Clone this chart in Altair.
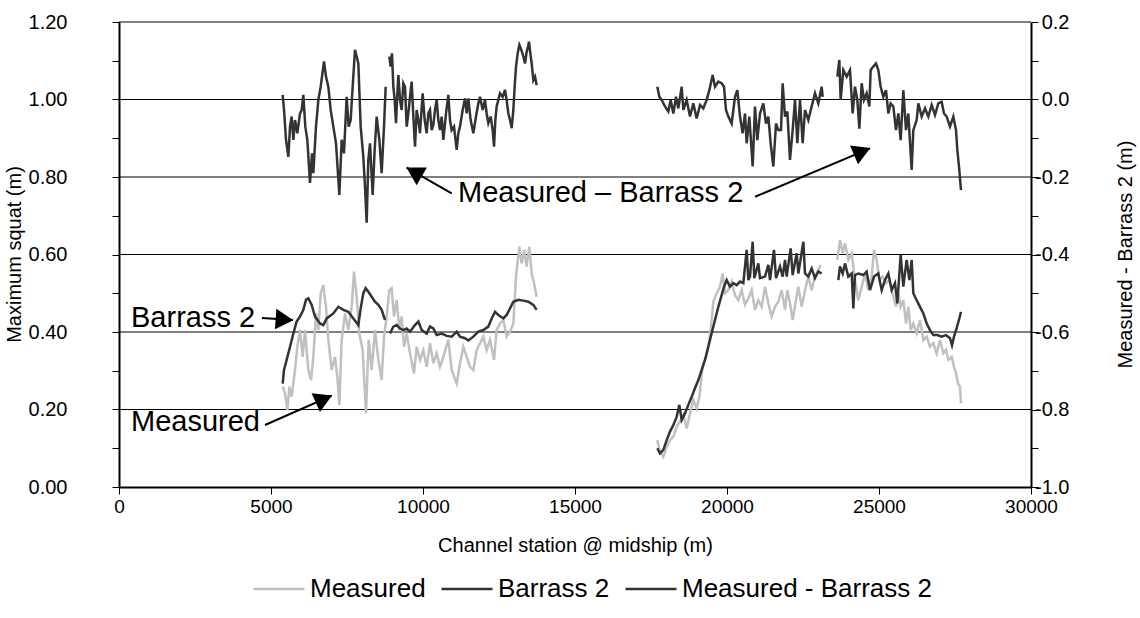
import altair as alt
import pandas as pd

FONT = "Liberation Sans"

# ---------------- data ----------------
# Measured (left axis), three stretches of channel
meas_station = [
    [5384, 5461, 5538, 5603, 5680, 5790, 5866, 5954, 6042, 6118,
     6228, 6316, 6393, 6480, 6557, 6634, 6722, 6809, 6886, 6996,
     7105, 7182, 7248, 7325, 7434, 7544, 7654, 7730, 7818, 7906,
     8015, 8125, 8213, 8311, 8421, 8531, 8640, 8717, 8805, 8893,
     8969, 9046, 9134, 9222, 9298, 9376, 9463, 9573, 9704, 9792,
     9901, 10011, 10121, 10230, 10340, 10450, 10559, 10669, 10833, 10943,
     11108, 11217, 11327, 11437, 11546, 11656, 11765, 11875, 11985, 12094,
     12204, 12336, 12423, 12533, 12643, 12752, 12884, 12972, 13059, 13169,
     13246, 13323, 13410, 13498, 13575, 13652, 13739],
    [17708, 17796, 17906, 18015, 18125, 18235, 18344, 18454, 18564, 18673,
     18783, 18892, 19002, 19090, 19199, 19309, 19419, 19495, 19550, 19660,
     19770, 19857, 19934, 20044, 20153, 20263, 20373, 20482, 20592, 20702,
     20811, 20921, 21031, 21140, 21250, 21360, 21469, 21579, 21689, 21798,
     21908, 21985, 22072, 22160, 22248, 22346, 22456, 22566, 22675, 22785,
     22894, 23004, 23081],
    [23629, 23717, 23805, 23882, 23991, 24101, 24210, 24320, 24430, 24540,
     24649, 24759, 24836, 24923, 25011, 25120, 25230, 25340, 25449, 25559,
     25636, 25713, 25800, 25888, 25965, 26042, 26129, 26239, 26349, 26458,
     26568, 26678, 26787, 26897, 27007, 27116, 27204, 27281, 27390, 27467,
     27533, 27599, 27664, 27697],
]
meas_value = [
    [0.259, 0.242, 0.199, 0.259, 0.233, 0.302, 0.362, 0.405, 0.336, 0.405,
     0.302, 0.276, 0.336, 0.448, 0.405, 0.500, 0.521, 0.465, 0.380, 0.302,
     0.336, 0.285, 0.212, 0.380, 0.448, 0.405, 0.465, 0.556, 0.491, 0.396,
     0.353, 0.190, 0.380, 0.302, 0.405, 0.328, 0.276, 0.388, 0.440, 0.508,
     0.513, 0.440, 0.483, 0.405, 0.440, 0.362, 0.396, 0.345, 0.293, 0.362,
     0.328, 0.353, 0.310, 0.371, 0.319, 0.345, 0.310, 0.336, 0.380, 0.302,
     0.267, 0.319, 0.362, 0.336, 0.310, 0.302, 0.353, 0.371, 0.388, 0.353,
     0.380, 0.328, 0.405, 0.422, 0.431, 0.388, 0.405, 0.422, 0.543, 0.620,
     0.577, 0.612, 0.569, 0.620, 0.551, 0.526, 0.491],
    [0.121, 0.091, 0.078, 0.104, 0.121, 0.130, 0.156, 0.169, 0.186, 0.151,
     0.190, 0.225, 0.203, 0.233, 0.311, 0.336, 0.379, 0.431, 0.478, 0.500,
     0.517, 0.551, 0.500, 0.508, 0.530, 0.495, 0.482, 0.508, 0.470, 0.487,
     0.508, 0.457, 0.482, 0.465, 0.517, 0.474, 0.440, 0.465, 0.478, 0.508,
     0.457, 0.508, 0.474, 0.431, 0.474, 0.517, 0.465, 0.508, 0.543, 0.508,
     0.543, 0.560, 0.573],
    [0.586, 0.637, 0.603, 0.629, 0.586, 0.603, 0.534, 0.482, 0.517, 0.551,
     0.508, 0.543, 0.612, 0.586, 0.534, 0.543, 0.526, 0.534, 0.500, 0.465,
     0.500, 0.465, 0.482, 0.422, 0.465, 0.405, 0.422, 0.397, 0.431, 0.379,
     0.388, 0.362, 0.371, 0.345, 0.379, 0.345, 0.354, 0.328, 0.336, 0.311,
     0.293, 0.267, 0.259, 0.216],
]

# Barrass 2 (left axis)
barr_station = [
    [5384, 5428, 5515, 5626, 5735, 5844, 5954, 6064, 6151, 6228,
     6338, 6447, 6612, 6722, 6831, 7051, 7215, 7379, 7544, 7708,
     7873, 7950, 8037, 8114, 8202, 8311, 8421, 8531, 8640, 8750],
    [8915, 9024, 9134, 9244, 9353, 9463, 9573, 9737, 9847, 9956,
     10121, 10230, 10340, 10450, 10614, 10779, 10943, 11108, 11217, 11382,
     11491, 11656, 11820, 11985, 12149, 12259, 12369, 12478, 12643, 12752,
     12862, 12972, 13136, 13301, 13465, 13630, 13739],
    [17708, 17796, 17906, 18015, 18125, 18235, 18344, 18432, 18509, 18618,
     18728, 18838, 18947, 19057, 19167, 19276, 19386, 19495, 19605, 19715,
     19824, 19901, 19989, 20099, 20208, 20318, 20428, 20537, 20647, 20702,
     20757, 20844, 20899, 21031, 21085, 21250, 21360, 21414, 21546, 21612,
     21743, 21831, 21908, 21963, 22094, 22160, 22292, 22347, 22511, 22566,
     22675, 22785, 22894, 23004, 23114],
    [23662, 23717, 23805, 23882, 23991, 24101, 24156, 24210, 24320, 24485,
     24594, 24704, 24836, 24978, 25088, 25197, 25307, 25417, 25526, 25603,
     25713, 25800, 25910, 25998, 26075, 26129, 26239, 26349, 26458, 26568,
     26678, 26787, 26919, 27061, 27204, 27336, 27401, 27467, 27555, 27643,
     27697],
]
barr_value = [
    [0.267, 0.302, 0.328, 0.362, 0.396, 0.427, 0.440, 0.457, 0.483, 0.487,
     0.470, 0.440, 0.422, 0.418, 0.435, 0.448, 0.465, 0.457, 0.452, 0.435,
     0.418, 0.461, 0.500, 0.513, 0.504, 0.491, 0.478, 0.470, 0.457, 0.431],
    [0.396, 0.414, 0.418, 0.409, 0.405, 0.409, 0.401, 0.418, 0.427, 0.405,
     0.396, 0.414, 0.409, 0.392, 0.396, 0.390, 0.388, 0.401, 0.388, 0.384,
     0.378, 0.388, 0.401, 0.405, 0.414, 0.435, 0.452, 0.444, 0.435, 0.444,
     0.461, 0.478, 0.483, 0.481, 0.478, 0.470, 0.457],
    [0.100, 0.087, 0.096, 0.121, 0.143, 0.160, 0.181, 0.212, 0.173, 0.190,
     0.212, 0.233, 0.255, 0.276, 0.302, 0.328, 0.362, 0.397, 0.431, 0.465,
     0.495, 0.517, 0.534, 0.517, 0.526, 0.521, 0.530, 0.526, 0.612, 0.534,
     0.543, 0.633, 0.539, 0.577, 0.539, 0.543, 0.573, 0.534, 0.612, 0.539,
     0.569, 0.543, 0.586, 0.543, 0.616, 0.547, 0.603, 0.551, 0.633, 0.551,
     0.543, 0.564, 0.539, 0.556, 0.551],
    [0.534, 0.569, 0.551, 0.577, 0.543, 0.551, 0.461, 0.547, 0.551, 0.547,
     0.556, 0.508, 0.543, 0.551, 0.508, 0.534, 0.551, 0.508, 0.526, 0.474,
     0.599, 0.517, 0.586, 0.534, 0.586, 0.500, 0.482, 0.465, 0.448, 0.422,
     0.405, 0.392, 0.392, 0.388, 0.392, 0.384, 0.366, 0.388, 0.410, 0.435,
     0.452],
]

# Measured - Barrass 2 (right axis)
diff_station = [
    [5384, 5428, 5494, 5570, 5626, 5680, 5735, 5790, 5866, 5954,
     6009, 6064, 6129, 6195, 6283, 6349, 6393, 6480, 6557, 6634,
     6743, 6809, 6886, 6963, 7051, 7138, 7248, 7325, 7401, 7489,
     7555, 7621, 7686, 7763, 7818, 7873, 7950, 8037, 8092, 8147,
     8202, 8257, 8344, 8410, 8476, 8564, 8640, 8717, 8772],
    [8893, 8937, 8980, 9024, 9068, 9112, 9156, 9189, 9244, 9298,
     9353, 9408, 9463, 9518, 9573, 9627, 9682, 9737, 9792, 9847,
     9901, 9989, 10055, 10121, 10176, 10230, 10285, 10340, 10395, 10450,
     10504, 10559, 10614, 10669, 10757, 10833, 10888, 10943, 11020, 11108,
     11162, 11217, 11305, 11382, 11437, 11491, 11568, 11656, 11744, 11820,
     11875, 11963, 12040, 12094, 12149, 12226, 12292, 12336, 12380, 12423,
     12478, 12533, 12621, 12697, 12752, 12807, 12862, 12917, 12972, 13015,
     13059, 13114, 13169, 13235, 13301, 13355, 13410, 13454, 13487, 13531,
     13575, 13630, 13685, 13739],
    [17708, 17774, 17851, 17960, 18070, 18147, 18235, 18322, 18399, 18509,
     18564, 18673, 18783, 18892, 19002, 19112, 19221, 19331, 19419, 19528,
     19605, 19715, 19824, 19901, 19967, 20044, 20153, 20263, 20340, 20428,
     20515, 20592, 20647, 20735, 20844, 20921, 20998, 21085, 21195, 21283,
     21360, 21436, 21524, 21612, 21689, 21776, 21831, 21908, 21985, 22072,
     22160, 22237, 22314, 22401, 22489, 22566, 22675, 22785, 22894, 23004,
     23114, 23147],
    [23629, 23695, 23739, 23826, 23936, 24046, 24133, 24210, 24287, 24353,
     24430, 24506, 24594, 24682, 24726, 24813, 24901, 24978, 25055, 25142,
     25230, 25307, 25383, 25471, 25559, 25636, 25712, 25800, 25888, 25964,
     26074, 26129, 26239, 26294, 26403, 26513, 26623, 26732, 26842, 26951,
     27061, 27138, 27226, 27335, 27445, 27533, 27577, 27642, 27697],
]
diff_value = [
    [0.012, -0.027, -0.104, -0.148, -0.070, -0.044, -0.104, -0.053, -0.087, -0.036,
     -0.027, 0.012, -0.070, -0.104, -0.215, -0.139, -0.190, -0.070, -0.001, 0.033,
     0.098, 0.059, 0.033, -0.027, -0.070, -0.113, -0.246, -0.104, -0.139, 0.007,
     -0.070, -0.053, 0.033, 0.128, 0.111, 0.093, -0.070, -0.148, -0.225, -0.318,
     -0.156, -0.113, -0.246, -0.130, -0.044, -0.104, -0.190, -0.070, 0.033],
    [0.111, 0.085, 0.119, 0.033, -0.001, -0.061, 0.016, 0.063, -0.001, -0.027,
     0.042, 0.033, -0.070, -0.036, 0.007, 0.046, -0.044, -0.122, -0.027, -0.053,
     -0.087, 0.016, -0.053, -0.087, -0.036, -0.027, -0.079, -0.066, -0.027, -0.001,
     -0.053, -0.079, -0.044, -0.104, -0.036, 0.012, -0.053, -0.079, -0.070, -0.130,
     -0.087, -0.070, -0.027, 0.003, -0.036, 0.003, -0.053, -0.087, -0.044, -0.010,
     0.007, -0.027, -0.001, -0.036, -0.061, -0.044, -0.079, -0.122, -0.053, -0.018,
     -0.001, 0.016, 0.007, 0.025, -0.001, -0.036, -0.053, -0.074, -0.027, 0.033,
     0.085, 0.119, 0.141, 0.128, 0.111, 0.093, 0.123, 0.136, 0.149, 0.119,
     0.093, 0.050, 0.059, 0.037],
    [0.033, 0.007, -0.001, -0.018, -0.031, -0.001, -0.036, 0.007, -0.023, 0.033,
     -0.027, -0.001, -0.044, -0.010, -0.049, -0.014, -0.023, -0.001, 0.024, 0.063,
     0.033, 0.046, 0.042, 0.033, -0.027, -0.044, -0.062, 0.007, 0.024, -0.044,
     -0.087, -0.036, -0.113, -0.044, -0.173, -0.018, -0.105, -0.036, -0.010, -0.062,
     -0.044, -0.113, -0.173, -0.062, -0.079, -0.079, 0.042, -0.044, -0.031, -0.156,
     -0.079, -0.001, -0.113, -0.001, -0.113, -0.027, -0.053, -0.018, 0.016, -0.010,
     0.033, 0.007],
    [0.059, 0.102, -0.001, 0.076, 0.059, 0.076, -0.036, 0.033, -0.001, -0.075,
     0.042, -0.001, 0.016, -0.018, 0.076, 0.085, 0.093, 0.076, 0.033, 0.007,
     0.024, -0.036, -0.010, -0.018, -0.079, -0.036, -0.105, 0.024, -0.079, -0.036,
     -0.182, -0.079, -0.053, -0.010, -0.044, -0.023, -0.044, -0.014, -0.040, -0.010,
     -0.006, -0.036, -0.044, -0.070, -0.044, -0.079, -0.130, -0.182, -0.234],
]

series_names = ["Measured", "Barrass 2", "Measured - Barrass 2"]
series_colors = ["#c0c0c0", "#333333", "#333333"]

x_ticks = [0, 5000, 10000, 15000, 20000, 25000, 30000]
left_ticks = [0.0, 0.1, 0.2, 0.3, 0.4, 0.5, 0.6, 0.7, 0.8, 0.9, 1.0, 1.1, 1.2]
right_ticks = [-1.0, -0.9, -0.8, -0.7, -0.6, -0.5, -0.4, -0.3, -0.2, -0.1, 0.0, 0.1, 0.2]
grid_values = [0.2, 0.4, 0.6, 0.8, 1.0, 1.2]

# annotations (positions in data units: station, left-axis value)
label_text = ["Measured \u2013 Barrass 2", "Barrass 2", "Measured"]
label_station = [11151, 395, 395]
label_value = [0.759, 0.436, 0.168]

arrow_from_station = [10944, 20921, 4704, 4803]
arrow_from_value = [0.758, 0.749, 0.436, 0.160]
arrow_to_station = [9461, 24704, 5724, 6997]
arrow_to_value = [0.824, 0.874, 0.431, 0.236]
head_station = [9707, 24447, 5444, 6740]
head_value = [0.813, 0.866, 0.432, 0.227]
head_angle = [300, 67, 94, 66]


def build(name, stations, values):
    rows = []
    for k, (xs, ys) in enumerate(zip(stations, values)):
        for a, b in zip(xs, ys):
            rows.append({"series": name, "seg": f"{name}-{k}", "station": a, "value": b})
    return pd.DataFrame(rows)


df_meas = build("Measured", meas_station, meas_value)
df_barr = build("Barrass 2", barr_station, barr_value)
df_diff = build("Measured - Barrass 2", diff_station, diff_value)
df_grid = pd.DataFrame({"g": grid_values})
df_text = pd.DataFrame({"station": label_station, "value": label_value, "text": label_text})
df_arrow = pd.DataFrame({"station": arrow_from_station, "value": arrow_from_value,
                         "station2": arrow_to_station, "value2": arrow_to_value})
df_head = pd.DataFrame({"station": head_station, "value": head_value, "angle": head_angle})

# ---------------- encodings ----------------
x_axis = alt.Axis(values=x_ticks, format="d", title="Channel station @ midship (m)", grid=False,
                  domainColor="black", domainWidth=2, tickColor="black", tickSize=7, tickWidth=1,
                  labelFont=FONT, labelFontSize=19, labelColor="black", labelPadding=3,
                  labelFlush=False, labelOverlap=False,
                  titleFont=FONT, titleFontSize=20, titleFontWeight="normal", titleColor="black",
                  titleY=58, titleBaseline="middle")
x_scale = alt.Scale(domain=[0, 30000], nice=False, zero=False)
X = alt.X("station:Q", scale=x_scale, axis=x_axis)

yl_scale = alt.Scale(domain=[0, 1.2], nice=False, zero=False)
yr_scale = alt.Scale(domain=[-1.0, 0.2], nice=False, zero=False)

left_axis = alt.Axis(orient="left", values=left_ticks, grid=False,
                     labelExpr="abs(round(datum.value*10)) % 2 == 0 ? format(datum.value, '.2f') : ''",
                     domainColor="black", domainWidth=2, tickColor="black", tickSize=7, tickWidth=1,
                     labelFont=FONT, labelFontSize=20, labelColor="black", labelPadding=45,
                     labelOverlap=False,
                     title="Maximum squat (m)", titleFont=FONT, titleFontSize=20,
                     titleFontWeight="normal", titleColor="black", titleAngle=270,
                     titleBaseline="middle", titleX=-105, titleY=232)
right_axis = alt.Axis(orient="right", values=right_ticks, grid=False,
                      labelExpr="abs(round(datum.value*10)) % 2 == 0 ? (datum.value < -0.001 ? '-' : '') + format(abs(datum.value), '.1f') : ''",
                      domainColor="black", domainWidth=2, tickColor="black", tickSize=7, tickWidth=1,
                      labelFont=FONT, labelFontSize=20, labelColor="black", labelPadding=31,
                      labelAlign="right", labelOverlap=False,
                      title="Measured - Barrass 2 (m)", titleFont=FONT, titleFontSize=20,
                      titleFontWeight="normal", titleColor="black", titleAngle=270,
                      titleBaseline="middle", titleX=94, titleY=232)

legend = alt.Legend(orient="none", legendX=133, legendY=540, direction="horizontal", title=None,
                    symbolType="stroke", symbolSize=2600, symbolStrokeWidth=2.5,
                    labelFont=FONT, labelFontSize=26, labelColor="black", labelLimit=0,
                    columnPadding=10, labelOffset=4)
color = alt.Color("series:N", scale=alt.Scale(domain=series_names, range=series_colors), legend=legend)

grid = alt.Chart(df_grid).mark_rule(color="black", strokeWidth=1).encode(
    y=alt.Y("g:Q", scale=yl_scale, axis=None))

meas = alt.Chart(df_meas).mark_line(strokeWidth=2.5).encode(
    x=X, y=alt.Y("value:Q", scale=yl_scale, axis=left_axis), color=color, detail="seg:N")
barr = alt.Chart(df_barr).mark_line(strokeWidth=2.5).encode(
    x=X, y=alt.Y("value:Q", scale=yl_scale, axis=None), color=color, detail="seg:N")
diff = alt.Chart(df_diff).mark_line(strokeWidth=2.5).encode(
    x=X, y=alt.Y("value:Q", scale=yr_scale, axis=right_axis), color=color, detail="seg:N")

arrows = alt.Chart(df_arrow).mark_rule(color="black", strokeWidth=2).encode(
    x=X, x2="station2:Q", y=alt.Y("value:Q", scale=yl_scale, axis=None), y2="value2:Q")
heads = alt.Chart(df_head).mark_point(shape="triangle-up", filled=True, size=420, color="black",
                                      opacity=1, strokeWidth=0).encode(
    x=X, y=alt.Y("value:Q", scale=yl_scale, axis=None), angle=alt.Angle("angle:Q", scale=None))
texts = alt.Chart(df_text).mark_text(font=FONT, fontSize=29, align="left", baseline="middle",
                                     color="black").encode(
    x=X, y=alt.Y("value:Q", scale=yl_scale, axis=None), text="text:N")

chart = alt.layer(grid, meas, barr, diff, arrows, heads, texts).resolve_scale(
    y="independent").properties(
    width=912, height=465,
    padding={"left": 119, "top": 22, "right": 109, "bottom": 131},
    autosize=alt.AutoSizeParams(type="none"),
    background="white",
).configure_view(stroke=None)

chart.save("out.html", embed_options={"renderer": "svg", "actions": False})
